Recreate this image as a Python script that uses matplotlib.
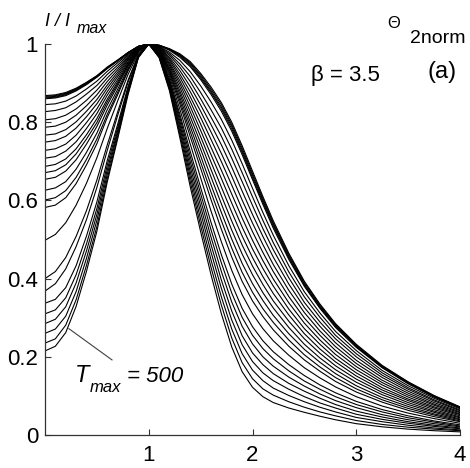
import matplotlib
matplotlib.use("Agg")
import matplotlib.pyplot as plt

plt.rcParams['font.family'] = ['Liberation Sans', 'DejaVu Sans']

# x positions: rising side (0..1) and falling side (>1)
x_left = [0, .1, .2, .3, .4, .5, .6, .7, .8, .9, 1.0]
x_right = [1.1, 1.2, 1.3, 1.4, 1.5, 1.6, 1.7, 1.8, 1.9, 2.0, 2.1, 2.2, 2.35, 2.5,
           2.65, 2.8, 3.0, 3.25, 3.5, 3.75, 4.0]

# I/I_max on the rising side, broadest (top) to narrowest (T_max = 500)
left_profiles = [
    [.868, .870, .876, .887, .902, .919, .941, .959, .978, .994, 1],
    [.866, .868, .874, .885, .901, .918, .940, .958, .978, .994, 1],
    [.864, .866, .872, .884, .899, .917, .939, .958, .978, .994, 1],
    [.862, .864, .870, .882, .898, .916, .938, .957, .977, .994, 1],
    [.860, .862, .868, .880, .896, .915, .937, .957, .977, .994, 1],
    [.845, .847, .854, .867, .885, .905, .930, .952, .974, .993, 1],
    [.827, .830, .837, .852, .872, .894, .922, .946, .971, .992, 1],
    [.806, .809, .818, .834, .856, .882, .913, .940, .968, .991, 1],
    [.787, .790, .800, .818, .842, .870, .904, .934, .965, .990, 1],
    [.767, .770, .781, .801, .828, .858, .895, .928, .962, .990, 1],
    [.749, .753, .764, .785, .814, .847, .887, .922, .959, .989, 1],
    [.728, .732, .744, .767, .799, .834, .878, .916, .955, .988, 1],
    [.708, .712, .726, .750, .784, .822, .869, .909, .952, .987, 1],
    [.687, .692, .706, .732, .768, .809, .859, .903, .948, .986, 1],
    [.671, .676, .691, .719, .757, .799, .852, .898, .946, .985, 1],
    [.654, .659, .675, .704, .744, .789, .844, .893, .943, .984, 1],
    [.626, .632, .648, .680, .723, .772, .832, .884, .938, .983, 1],
    [.601, .607, .625, .659, .705, .757, .820, .876, .934, .982, 1],
    [.582, .588, .607, .643, .691, .745, .812, .870, .931, .981, 1],
    [.498, .513, .543, .588, .644, .709, .784, .854, .922, .977, 1],
    [.400, .418, .454, .508, .574, .652, .742, .826, .907, .973, 1],
    [.368, .387, .425, .482, .551, .633, .728, .817, .902, .972, 1],
    [.337, .347, .377, .433, .509, .596, .702, .794, .891, .970, 1],
    [.310, .320, .351, .410, .489, .579, .690, .786, .886, .969, 1],
    [.285, .296, .328, .389, .471, .564, .678, .778, .882, .968, 1],
    [.260, .271, .304, .367, .452, .549, .667, .771, .878, .967, 1],
    [.235, .246, .281, .346, .434, .533, .656, .763, .874, .966, 1],
    [.215, .227, .262, .329, .419, .521, .647, .757, .870, .965, 1],
]

# I/I_max on the falling side, same order of curves
right_profiles = [
    [.997, .988, .975, .955, .925, .890, .850, .800, .740, .675, .610, .548, .465, .393, .335, .285, .232, .178, .136, .101, .072],
    [.997, .987, .973, .952, .921, .885, .845, .794, .734, .669, .605, .543, .461, .390, .332, .283, .230, .176, .135, .100, .071],
    [.996, .986, .971, .949, .917, .880, .839, .789, .728, .664, .600, .539, .457, .386, .329, .280, .228, .175, .134, .099, .071],
    [.996, .985, .969, .945, .913, .876, .834, .783, .723, .658, .595, .534, .453, .383, .326, .278, .226, .173, .132, .098, .070],
    [.996, .984, .966, .942, .909, .871, .828, .777, .717, .653, .590, .529, .449, .380, .324, .275, .224, .172, .131, .097, .069],
    [.994, .979, .958, .929, .893, .852, .807, .754, .694, .631, .569, .511, .433, .366, .312, .265, .216, .165, .126, .094, .067],
    [.993, .975, .949, .917, .876, .832, .785, .731, .671, .609, .549, .492, .417, .353, .301, .255, .208, .159, .121, .090, .064],
    [.992, .971, .941, .904, .860, .813, .764, .708, .648, .587, .528, .474, .402, .339, .289, .246, .200, .153, .117, .087, .062],
    [.991, .966, .932, .891, .844, .794, .742, .685, .624, .564, .508, .455, .386, .326, .278, .236, .191, .147, .112, .083, .059],
    [.989, .962, .923, .878, .828, .775, .720, .662, .601, .542, .487, .436, .370, .313, .266, .226, .183, .140, .107, .079, .057],
    [.988, .958, .915, .865, .812, .756, .699, .639, .578, .520, .467, .418, .354, .299, .255, .216, .175, .134, .102, .076, .054],
    [.987, .953, .906, .853, .795, .736, .677, .616, .555, .498, .446, .399, .338, .286, .243, .206, .167, .128, .097, .072, .052],
    [.985, .949, .898, .840, .779, .717, .656, .593, .532, .476, .426, .381, .322, .272, .232, .196, .159, .121, .092, .069, .049],
    [.984, .945, .889, .827, .763, .698, .634, .570, .509, .454, .405, .362, .307, .259, .220, .187, .151, .115, .088, .065, .046],
    [.983, .940, .880, .814, .747, .679, .612, .547, .486, .432, .385, .343, .291, .246, .209, .177, .143, .109, .083, .061, .044],
    [.982, .936, .872, .801, .731, .660, .591, .524, .463, .410, .364, .325, .275, .232, .197, .167, .135, .103, .078, .058, .041],
    [.980, .932, .863, .789, .714, .640, .569, .501, .439, .387, .344, .306, .259, .219, .186, .157, .126, .096, .073, .054, .039],
    [.979, .928, .855, .776, .698, .621, .548, .478, .416, .365, .323, .288, .243, .205, .174, .147, .118, .090, .068, .051, .036],
    [.978, .923, .846, .763, .682, .602, .526, .455, .393, .343, .303, .269, .227, .192, .163, .137, .110, .084, .063, .047, .034],
    [.976, .917, .833, .744, .658, .573, .494, .421, .359, .310, .272, .241, .204, .172, .146, .123, .098, .074, .056, .042, .030],
    [.974, .910, .820, .725, .633, .544, .461, .386, .324, .277, .241, .213, .180, .152, .128, .108, .086, .065, .049, .036, .026],
    [.973, .906, .812, .712, .617, .525, .440, .363, .301, .255, .221, .195, .164, .138, .117, .098, .078, .059, .044, .033, .023],
    [.971, .902, .803, .699, .601, .506, .418, .340, .278, .233, .200, .176, .148, .125, .105, .088, .070, .052, .039, .029, .021],
    [.970, .897, .794, .686, .585, .487, .396, .317, .254, .210, .180, .157, .132, .112, .094, .078, .061, .046, .034, .025, .018],
    [.969, .893, .786, .673, .569, .468, .375, .294, .231, .188, .159, .139, .117, .098, .082, .069, .053, .040, .030, .022, .016],
    [.968, .889, .777, .661, .552, .448, .353, .271, .208, .166, .139, .120, .101, .085, .071, .059, .045, .034, .025, .018, .013],
    [.966, .884, .769, .648, .536, .429, .332, .248, .185, .144, .118, .102, .085, .071, .059, .049, .037, .027, .020, .015, .011],
    [.965, .880, .760, .635, .520, .410, .310, .225, .162, .122, .098, .083, .069, .058, .048, .039, .029, .021, .015, .011, .008],
]

x_ticks = [1, 2, 3, 4]
x_tick_labels = ['1', '2', '3', '4']
y_ticks = [0, 0.2, 0.4, 0.6, 0.8, 1.0]
y_tick_labels = ['0', '0.2', '0.4', '0.6', '0.8', '1']

# annotation pointer (data coords): from the narrowest curve to the label
pointer_start = (0.23, 0.272)
pointer_end = (0.646, 0.192)

W, H = 470, 468
fig = plt.figure(figsize=(W / 100, H / 100), dpi=100)
ax = fig.add_axes([45 / W, 1 - 435 / H, (460 - 45) / W, (435 - 44) / H])

x_all = x_left + x_right
for yl, yr in zip(left_profiles, right_profiles):
    ax.plot(x_all, yl + yr, color='black', lw=0.8, solid_joinstyle='round')

ax.plot([pointer_start[0], pointer_end[0]], [pointer_start[1], pointer_end[1]],
        color='#404040', lw=0.8)

ax.set_xlim(0, 4)
ax.set_ylim(0, 1)
ax.spines['top'].set_visible(False)
ax.spines['right'].set_visible(False)
for s in ('left', 'bottom'):
    ax.spines[s].set_linewidth(0.9)
    ax.spines[s].set_color('#333333')
ax.set_xticks(x_ticks)
ax.set_xticklabels(x_tick_labels)
ax.set_yticks(y_ticks)
ax.set_yticklabels(y_tick_labels)
ax.tick_params(direction='in', length=4, width=0.8, labelsize=16, colors='#333333',
               labelcolor='black')
ax.tick_params(axis='x', pad=7)
ax.tick_params(axis='y', pad=5)


def ftext(px, py, s, **kw):
    fig.text(px / W, 1 - py / H, s, **kw)


# y-axis label I / I_max
ftext(45, 26, 'I / I', fontsize=13, style='italic', ha='left', va='baseline')
ftext(77, 33, 'max', fontsize=11.5, style='italic', ha='left', va='baseline')

# Theta_2norm
ftext(394, 24, '\u0398', fontsize=12, ha='center', va='center')
ftext(410, 43, '2norm', fontsize=14, ha='left', va='baseline')

# beta and panel label
ftext(345, 76, '\u03b2 = 3.5', fontsize=16, ha='center', va='center')
ftext(442, 72, '(a)', fontsize=17, ha='center', va='center')

# T_max = 500 label
ftext(75, 382, 'T', fontsize=17, style='italic', ha='left', va='baseline')
ftext(90, 392, 'max', fontsize=12, style='italic', ha='left', va='baseline')
ftext(127, 382, '= 500', fontsize=16, style='italic', ha='left', va='baseline')

fig.savefig('out.png', dpi=100)
